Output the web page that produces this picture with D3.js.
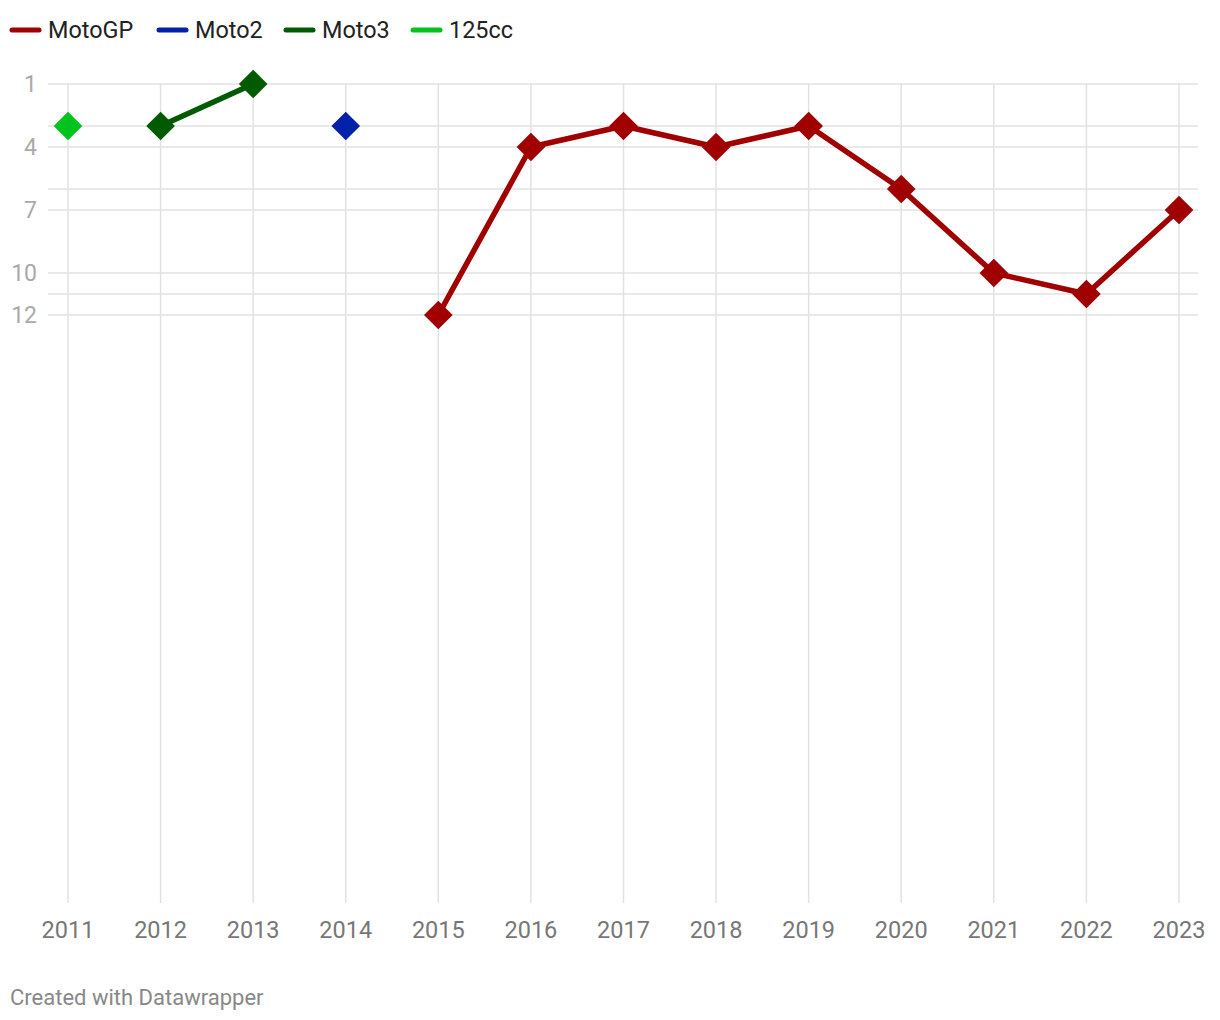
<!DOCTYPE html>
<html><head><meta charset="utf-8">
<script src="https://cdn.jsdelivr.net/npm/d3@7"></script>
<style>body{margin:0;background:#fff;font-family:Roboto,sans-serif;}</style>
</head><body><svg id="c" width="1220" height="1020"></svg>
<script>
const years = [2011,2012,2013,2014,2015,2016,2017,2018,2019,2020,2021,2022,2023];
const seriesNames = ["MotoGP","Moto2","Moto3","125cc"];
const seriesColors = ["#a00000","#0022aa","#005a00","#00c41e"];
const motoGP = [[2015,12],[2016,4],[2017,3],[2018,4],[2019,3],[2020,6],[2021,10],[2022,11],[2023,7]];
const moto2 = [[2014,3]];
const moto3 = [[2012,3],[2013,1]];
const cc125 = [[2011,3]];
const gridValues = [1,3,4,6,7,10,11,12];
const yTickLabels = [1,4,7,10,12];

const svg = d3.select("#c");
const x = d3.scalePoint().domain(years).range([68,1179]);
const y = d3.scaleLinear().domain([1,12]).range([84,315]);
const plotBottom = 903;

svg.append("g").selectAll("line").data(gridValues).join("line")
  .attr("x1",48).attr("x2",1198).attr("y1",d=>y(d)).attr("y2",d=>y(d))
  .attr("stroke","#e2e2e2").attr("stroke-width",1.5);
svg.append("g").selectAll("line").data(years).join("line")
  .attr("x1",d=>x(d)).attr("x2",d=>x(d)).attr("y1",y(1)).attr("y2",plotBottom)
  .attr("stroke","#e2e2e2").attr("stroke-width",1.5);

svg.append("g").selectAll("text").data(yTickLabels).join("text")
  .attr("x",37).attr("y",d=>y(d)).attr("dy","0.35em").attr("text-anchor","end")
  .attr("fill","#aaaaaa").style("font-size","23px").text(d=>d);
svg.append("g").selectAll("text").data(years).join("text")
  .attr("x",d=>x(d)).attr("y",930).attr("dy","0.35em").attr("text-anchor","middle")
  .attr("fill","#777777").style("font-size","23.5px").text(d=>d);

const allSeries = [motoGP, moto2, moto3, cc125];
const line = d3.line().x(d=>x(d[0])).y(d=>y(d[1]));
const diamond = d3.symbol().type(d3.symbolSquare).size(410);
allSeries.forEach((s,i)=>{
  const g = svg.append("g");
  if (s.length>1) g.append("path").datum(s).attr("d",line).attr("fill","none")
    .attr("stroke",seriesColors[i]).attr("stroke-width",5.5).attr("stroke-linejoin","round");
  g.selectAll("path.m").data(s).join("path").attr("class","m")
    .attr("d",diamond)
    .attr("transform",d=>`translate(${x(d[0])},${y(d[1])}) rotate(45)`)
    .attr("fill",seriesColors[i]);
});

const leg = svg.append("g");
const legX = [12,159,286,413];
seriesNames.forEach((n,i)=>{
  leg.append("line").attr("x1",legX[i]).attr("x2",legX[i]+27).attr("y1",30).attr("y2",30)
    .attr("stroke",seriesColors[i]).attr("stroke-width",5).attr("stroke-linecap","round");
  leg.append("text").attr("x",legX[i]+36).attr("y",30).attr("dy","0.35em")
    .attr("fill","#222").style("font-size","23.4px").text(n);
});

svg.append("text").attr("x",10).attr("y",997).attr("dy","0.35em")
  .attr("fill","#888").style("font-size","22px").text("Created with Datawrapper");
</script></body></html>
